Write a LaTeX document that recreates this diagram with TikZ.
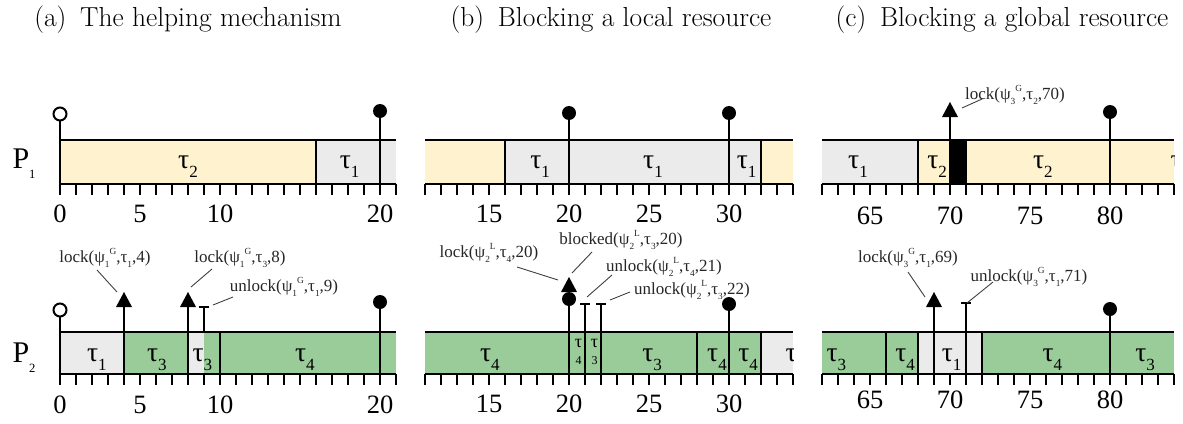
\documentclass[tikz,border=0pt]{standalone}
\usepackage{fontspec}
\newfontfamily\tms{Liberation Serif}
\definecolor{ylw}{RGB}{255,242,206}
\definecolor{gry}{RGB}{235,235,235}
\definecolor{grn}{RGB}{153,204,153}
\newcommand\tsk[1]{τ\raisebox{-0.33em}{\scalebox{0.62}{#1}}}
\newcommand\sbx[1]{\raisebox{-0.3em}{\scalebox{0.55}{#1}}}
\newcommand\spx[1]{\raisebox{0.42em}{\scalebox{0.55}{#1}}}
\newcommand\pfx[1]{P\raisebox{-0.35em}{\scalebox{0.42}{#1}}}
\tikzset{
  bar/.style={line width=2pt, black},
  tick/.style={line width=1.8pt, black},
  lead/.style={line width=0.9pt, black!75},
  tau/.style={font=\tms\fontsize{27.5}{27.5}\selectfont, anchor=base, inner sep=0pt},
  taus/.style={font=\tms\fontsize{18}{18}\selectfont, anchor=base, inner sep=0pt},
  digs/.style={font=\tms\fontsize{12}{12}\selectfont, anchor=base, inner sep=0pt},
  num/.style={font=\tms\fontsize{26.5}{26.5}\selectfont, anchor=base, inner sep=0pt},
  evl/.style={font=\tms\fontsize{17}{17}\selectfont, anchor=base, inner sep=0pt, text=black!85},
  ttl/.style={font=\fontsize{27.5}{32}\selectfont, anchor=base, inner sep=0pt},
  ptx/.style={font=\tms\fontsize{30}{30}\selectfont, anchor=base, inner sep=0pt},
  trimark/.pic={\fill (0pt,0pt) -- (-8pt,-15pt) -- (8pt,-15pt) -- cycle;}
}
\begin{document}
\begin{tikzpicture}[x=1pt,y=-1pt]
\fill[white] (0,0) rectangle (1183,423);
\useasboundingbox (0,0) rectangle (1183,423);
% titles
\node[ttl] (ta) at (188,27) {(a)\hspace{0.5em}The helping mechanism};
\node[ttl] (tb) at (611,27) {(b)\hspace{0.5em}Blocking a local resource};
\node[ttl] (tc) at (1002,27) {(c)\hspace{0.5em}Blocking a global resource};
% processor labels
\node[ptx] (p1) at (24,168) {\pfx{1}};
\node[ptx] (p2) at (24,362) {\pfx{2}};

% ================= panel (a)
\begin{scope}[xshift=60pt, x=16pt]
  % P1
  \fill[ylw] (0,139.5) rectangle (16,183.5);
  \fill[gry] (16,139.5) rectangle (21,183.5);
  \draw[bar] (0,139.5) -- (21,139.5) (0,183.5) -- (21,183.5);
  \draw[bar] (16,139.5) -- (16,183.5);
  \foreach \t in {0,...,21} \draw[tick] (\t,183.5) -- (\t,195);
  \draw[bar] (0,183.5) -- (0,114);
  \draw[bar,fill=white] (0,114) circle[radius=6.5pt];
  \draw[bar] (20,183.5) -- (20,111);
  \fill (20,111) circle[radius=7pt];
  \node[tau] (a1t2) at (8,168.5) {\tsk{2}};
  \node[tau] (a1t1) at (18.1,168.5) {\tsk{1}};
  \foreach \t in {0,5,10,20} \node[num] (na1\t) at (\t,222) {\t};
  % P2
  \fill[gry] (0,331.5) rectangle (4,374);
  \fill[grn] (4,331.5) rectangle (8,374);
  \fill[gry] (8,331.5) rectangle (9,374);
  \fill[grn] (9,331.5) rectangle (21,374);
  \draw[bar] (0,331.5) -- (21,331.5) (0,374) -- (21,374);
  \foreach \t in {10} \draw[bar] (\t,331.5) -- (\t,374);
  \foreach \t in {0,...,21} \draw[tick] (\t,374) -- (\t,385);
  \draw[bar] (0,374) -- (0,310);
  \draw[bar,fill=white] (0,310) circle[radius=6.5pt];
  \draw[bar] (4,374) -- (4,306);
  \path (4,292) pic{trimark};
  \draw[bar] (8,374) -- (8,306);
  \path (8,292) pic{trimark};
  \draw[bar] (9,331.5) -- (9,307);
  \draw[bar] ([xshift=-5pt]9,307) -- ([xshift=5pt]9,307);
  \draw[bar] (20,374) -- (20,302);
  \fill (20,302) circle[radius=7pt];
  \node[tau] (a2t1) at (2.3,361) {\tsk{1}};
  \node[tau] (a2t3) at (6.05,361) {\tsk{3}};
  \node[tau] (a2t3b) at (8.9,361) {\tsk{3}};
  \node[tau] (a2t4) at (15.3,361) {\tsk{4}};
  \foreach \t in {0,5,10,20} \node[num] (na2\t) at (\t,413) {\t};
\end{scope}
% event labels (a)
\node[evl] (ea1) at (105,262) {lock(ψ\sbx{1}\spx{G},τ\sbx{1},4)};
\node[evl] (ea2) at (240,262) {lock(ψ\sbx{1}\spx{G},τ\sbx{3},8)};
\node[evl] (ea3) at (284,291) {unlock(ψ\sbx{1}\spx{G},τ\sbx{1},9)};
\coordinate (ea1s) at (97,270); \coordinate (ea1e) at (117,292);
\coordinate (ea2s) at (212,269); \coordinate (ea2e) at (191,287);
\coordinate (ea3s) at (233,297); \coordinate (ea3e) at (213,305);
\draw[lead] (ea1s) -- (ea1e);
\draw[lead] (ea2s) -- (ea2e);
\draw[lead] (ea3s) -- (ea3e);

% ================= panel (b)
\begin{scope}[xshift=249pt, x=16pt]
  % P1
  \fill[ylw] (11,139.5) rectangle (16,183.5);
  \fill[gry] (16,139.5) rectangle (32,183.5);
  \fill[ylw] (32,139.5) rectangle (34,183.5);
  \draw[bar] (11,139.5) -- (34,139.5) (11,183.5) -- (34,183.5);
  \foreach \t in {16,32} \draw[bar] (\t,139.5) -- (\t,183.5);
  \foreach \t in {11,...,34} \draw[tick] (\t,183.5) -- (\t,195);
  \foreach \t in {20,30} {
    \draw[bar] (\t,183.5) -- (\t,113);
    \fill (\t,113) circle[radius=7pt];
  }
  \node[tau] (b1t1) at (18.2,168.5) {\tsk{1}};
  \node[tau] (b1t1b) at (25.25,168.5) {\tsk{1}};
  \node[tau] (b1t1c) at (31.1,168.5) {\tsk{1}};
  \foreach \t in {15,20,25,30} \node[num] (nb1\t) at (\t,222) {\t};
  % P2
  \fill[grn] (11,331.5) rectangle (32,374);
  \fill[gry] (32,331.5) rectangle (34,374);
  \draw[bar] (11,331.5) -- (34,331.5) (11,374) -- (34,374);
  \foreach \t in {28,32} \draw[bar] (\t,331.5) -- (\t,374);
  \foreach \t in {11,...,34} \draw[tick] (\t,374) -- (\t,385);
  \path (20,277) pic{trimark};
  \draw[bar] (20,374) -- (20,299);
  \fill (20,299) circle[radius=7pt];
  \foreach \t in {21,22} {
    \draw[bar] (\t,374) -- (\t,304);
    \draw[bar] ([xshift=-5pt]\t,304) -- ([xshift=5pt]\t,304);
  }
  \draw[bar] (30,374) -- (30,304);
  \fill (30,304) circle[radius=7pt];
  \node[tau] (b2t4) at (15.06,361) {\tsk{4}};
  \node[taus] (b2s4) at (20.6,347) {τ};
  \node[digs] (b2s4d) at (20.6,364) {4};
  \node[taus] (b2s3) at (21.6,347) {τ};
  \node[digs] (b2s3d) at (21.6,364) {3};
  \node[tau] (b2t3) at (25.2,361) {\tsk{3}};
  \node[tau] (b2t4b) at (29.25,361) {\tsk{4}};
  \node[tau] (b2t4c) at (31.2,361) {\tsk{4}};
  \begin{scope}
    \clip (11,300) rectangle (34,380);
    \node[tau] (b2tx) at (34.15,361) {\tsk{1}};
  \end{scope}
  \foreach \t in {15,20,25,30} \node[num] (nb2\t) at (\t,412) {\t};
\end{scope}
% event labels (b)
\node[evl] (eb1) at (489,257) {lock(ψ\sbx{2}\spx{L},τ\sbx{4},20)};
\node[evl] (eb2) at (621,244) {blocked(ψ\sbx{2}\spx{L},τ\sbx{3},20)};
\node[evl] (eb3) at (664,271) {unlock(ψ\sbx{2}\spx{L},τ\sbx{4},21)};
\node[evl] (eb4) at (692,294) {unlock(ψ\sbx{2}\spx{L},τ\sbx{3},22)};
\coordinate (eb1s) at (517,267); \coordinate (eb1e) at (558,280);
\coordinate (eb2s) at (592,252); \coordinate (eb2e) at (572,273);
\coordinate (eb3s) at (612,275); \coordinate (eb3e) at (587,297);
\coordinate (eb4s) at (630,292); \coordinate (eb4e) at (610,300);
\draw[lead] (eb1s) -- (eb1e);
\draw[lead] (eb2s) -- (eb2e);
\draw[lead] (eb3s) -- (eb3e);
\draw[lead] (eb4s) -- (eb4e);

% ================= panel (c)
\begin{scope}[xshift=-170pt, x=16pt]
  % P1
  \fill[gry] (62,139.5) rectangle (68,183.5);
  \fill[ylw] (68,139.5) rectangle (84,183.5);
  \fill[black] (70,139.5) rectangle (71,183.5);
  \draw[bar] (62,139.5) -- (84,139.5) (62,183.5) -- (84,183.5);
  \foreach \t in {68,70,71} \draw[bar] (\t,139.5) -- (\t,183.5);
  \foreach \t in {62,...,84} \draw[tick] (\t,183.5) -- (\t,195);
  \path (70,102) pic{trimark};
  \draw[bar] (70,139.5) -- (70,116);
  \draw[bar] (80,183.5) -- (80,112);
  \fill (80,112) circle[radius=7pt];
  \node[tau] (c1t1) at (64.25,168.5) {\tsk{1}};
  \node[tau] (c1t2) at (69.2,168.5) {\tsk{2}};
  \node[tau] (c1t2b) at (75.8,168.5) {\tsk{2}};
  \begin{scope}
    \clip (62,100) rectangle (84,190);
    \node[tau] (c1tx) at (84.4,168.5) {\tsk{2}};
  \end{scope}
  \foreach \t in {65,70,75,80} \node[num] (nc1\t) at (\t,224) {\t};
  % P2
  \fill[grn] (62,331.5) rectangle (68,374);
  \fill[gry] (68,331.5) rectangle (72,374);
  \fill[grn] (72,331.5) rectangle (84,374);
  \draw[bar] (62,331.5) -- (84,331.5) (62,374) -- (84,374);
  \foreach \t in {66,68,72} \draw[bar] (\t,331.5) -- (\t,374);
  \foreach \t in {62,...,84} \draw[tick] (\t,374) -- (\t,385);
  \path (69,292) pic{trimark};
  \draw[bar] (69,374) -- (69,306);
  \draw[bar] (71,374) -- (71,303);
  \draw[bar] ([xshift=-5pt]71,303) -- ([xshift=5pt]71,303);
  \draw[bar] (80,374) -- (80,309);
  \fill (80,309) circle[radius=7pt];
  \node[tau] (c2t3) at (62.9,361) {\tsk{3}};
  \node[tau] (c2t4) at (67.2,361) {\tsk{4}};
  \node[tau] (c2t1) at (70.1,361) {\tsk{1}};
  \node[tau] (c2t4b) at (76.4,361) {\tsk{4}};
  \node[tau] (c2t3b) at (82.2,361) {\tsk{3}};
  \foreach \t in {65,70,75,80} \node[num] (nc2\t) at (\t,408) {\t};
\end{scope}
% event labels (c)
\node[evl] (ec1) at (1015,99) {lock(ψ\sbx{3}\spx{G},τ\sbx{2},70)};
\node[evl] (ec2) at (908,262) {lock(ψ\sbx{3}\spx{G},τ\sbx{1},69)};
\node[evl] (ec3) at (1029,281) {unlock(ψ\sbx{3}\spx{G},τ\sbx{1},71)};
\coordinate (ec1s) at (982,99); \coordinate (ec1e) at (962,108);
\coordinate (ec2s) at (908,272); \coordinate (ec2e) at (925,297);
\coordinate (ec3s) at (993,282); \coordinate (ec3e) at (967,303);
\draw[lead] (ec1s) -- (ec1e);
\draw[lead] (ec2s) -- (ec2e);
\draw[lead] (ec3s) -- (ec3e);
\end{tikzpicture}
\end{document}
